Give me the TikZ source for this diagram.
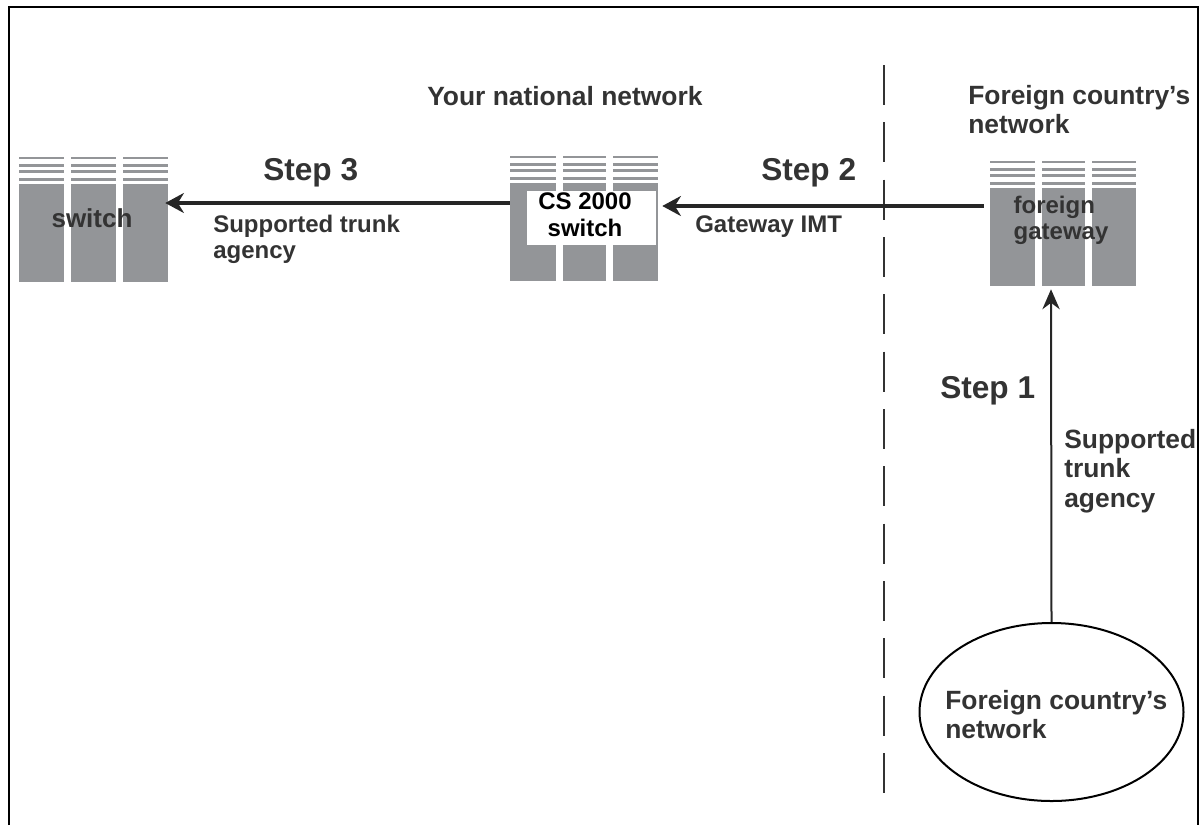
\documentclass[tikz,border=0pt]{standalone}
\usepackage{fontspec}
\setmainfont{Liberation Sans}
\usetikzlibrary{arrows.meta, shapes.geometric}

\definecolor{RackGray}{HTML}{939598}
\definecolor{InkGray}{HTML}{333333}

% One bank of three columns: top of stripes, left edge, column list.
\newcommand{\rackbank}[3]{
  \foreach \col/\wid in {#3} {
    \foreach \off/\thk in {0/1.6, 6.5/3, 13/3, 20.5/3}
      \fill [RackGray] (#2 + \col, #1 + \off) rectangle ++(\wid, \thk);
    \fill [RackGray] (#2 + \col, #1 + 27) rectangle ++(\wid, 98);
  }
}

\tikzset{
  rack/.style={minimum width=111pt, minimum height=73.5pt, inner sep=0pt},
  racktext/.style={align=left, inner sep=0pt, text=InkGray, font=\bfseries\fontsize{18}{19.5}\selectfont},
  plainlabel/.style={anchor=north west, align=left, inner sep=0pt, text=InkGray, font=\bfseries\fontsize{18}{19.5}\selectfont},
  widelabel/.style={anchor=north west, align=left, inner sep=0pt, text=InkGray, font=\bfseries\fontsize{19.8}{22}\selectfont},
  steplabel/.style={anchor=base west, inner sep=0pt, text=InkGray, font=\bfseries\fontsize{23.7}{28}\selectfont},
  heavyflow/.style={line width=3.6pt, -{Stealth[length=14pt, width=15pt]}, black!85},
  lightflow/.style={line width=1.5pt, -{Stealth[length=15pt, width=13pt]}, black!85}
}

\begin{document}
\begin{tikzpicture}[x=0.75pt, y=-0.75pt]
  \useasboundingbox (0, 0) rectangle (1202, 825);

  % Outer frame.
  \draw [line width=2pt, black] (9, 825) -- (9, 7) -- (1198, 7) -- (1198, 825);

  % Border between the two countries.
  \draw [line width=1.5pt, InkGray, dash pattern=on 30pt off 13pt] (884, 65) -- (884, 795);

  % The three banks.
  \rackbank{157}{19}{0/45, 52/45, 104/45}
  \rackbank{156}{510}{0/46, 53/43, 103/45}
  \rackbank{161}{990}{0/45, 52/43, 102/44}

  % Nodes over the banks.
  \node (switch) [rack] at (93, 233) {};
  \node (cs rack) [rack] at (584, 233) {};
  \node (gateway) [rack] at (1063, 237) {};
  \node (switch text) [racktext, font=\bfseries\fontsize{19.5}{21}\selectfont] at (92, 218) {switch};
  \node (gateway text) [racktext] at (1061, 220) {foreign\\gateway};

  % White label of the CS 2000.
  \node (cs box) [fill=white, minimum width=96.75pt, minimum height=40.5pt, inner sep=0pt] at (591.5, 218) {};
  \node (cs text) [align=center, inner sep=0pt, font=\bfseries\fontsize{18}{20.5}\selectfont] at (585, 214.5) {CS 2000\\switch};

  % Network of the foreign country.
  \node (foreign cloud) [draw, ellipse, line width=1.5pt, minimum width=198pt, minimum height=133.5pt, inner sep=0pt] at (1051.5, 712) {};
  \node (cloud text) [widelabel] at (945, 690) {Foreign country's\\network};

  % Flows.
  \draw [heavyflow] ([yshift=22.5pt]cs rack.west) -- ([xshift=-1.5pt, yshift=22.5pt]switch.east);
  \draw [heavyflow] ([xshift=-3.75pt, yshift=23.25pt]gateway.west) -- ([xshift=3pt, yshift=20.25pt]cs rack.east);
  \draw [lightflow] (foreign cloud.north) -- ([xshift=-9pt, yshift=-2.25pt]gateway.south);

  % Headings.
  \node (national) [widelabel] at (427, 86) {Your national network};
  \node (foreign head) [widelabel] at (968, 85) {Foreign country's\\network};

  % Step labels.
  \node (step three) [steplabel] at (263, 180) {Step 3};
  \node (step two) [steplabel] at (761, 180) {Step 2};
  \node (step one) [steplabel] at (940, 398) {Step 1};

  % Trunk labels.
  \node (agency three) [plainlabel] at (213, 215) {Supported trunk\\agency};
  \node (imt) [plainlabel] at (695, 215) {Gateway IMT};
  \node (agency one) [widelabel] at (1064, 429) {Supported\\trunk\\agency};
\end{tikzpicture}
\end{document}
